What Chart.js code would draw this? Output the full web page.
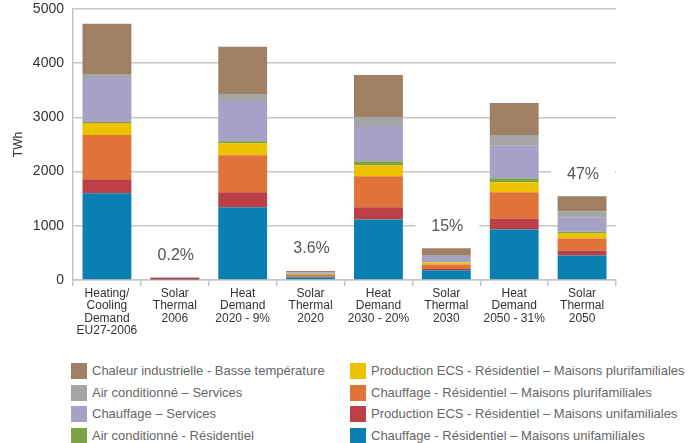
<!DOCTYPE html>
<html>
<head>
<meta charset="utf-8">
<script src="https://cdn.jsdelivr.net/npm/chart.js@4"></script>
<style>
  body { margin: 0; background: #fff; font-family: "Liberation Sans", Arial, sans-serif; }
  #wrap { position: relative; width: 696px; height: 443px; }
  #chartBox { position: absolute; left: 0; top: 0; width: 696px; height: 340px; }
  #legend { position: absolute; left: 0; top: 0; }
  .item { position: absolute; height: 16px; white-space: nowrap; font-size: 13px; color: #666; line-height: 16px; }
  .item span.sw { position: absolute; left: 0; top: 0; width: 16px; height: 16px; }
  .item span.tx { position: absolute; left: 21px; top: 0; }
</style>
</head>
<body>
<div id="wrap">
  <div id="chartBox"><canvas id="chartCanvas"></canvas></div>
  <div id="legend"></div>
</div>
<script>
const categories = [
    ["Heating/", "Cooling", "Demand", "EU27-2006"],
    ["Solar", "Thermal", "2006"],
    ["Heat", "Demand", "2020 - 9%"],
    ["Solar", "Thermal", "2020"],
    ["Heat", "Demand", "2030 - 20%"],
    ["Solar", "Thermal", "2030"],
    ["Heat", "Demand", "2050 - 31%"],
    ["Solar", "Thermal", "2050"]
];
const shareLabels = ["", "0.2%", "", "3.6%", "", "15%", "", "47%"];

// series, bottom of the stack first
const chauffageUni   = [1600, 10, 1340, 50, 1117, 178, 932, 451];
const ecsUni         = [258, 25, 277, 8, 223, 26, 204, 92];
const chauffagePluri = [815, 5, 685, 35, 574, 80, 481, 222];
const ecsPluri       = [222, 2, 223, 5, 203, 37, 185, 93];
const climResid      = [19, 1, 37, 12, 74, 6, 75, 37];
const chauffageServ  = [815, 2, 740, 15, 649, 99, 598, 259];
const climServ       = [74, 1, 130, 12, 166, 37, 198, 111];
const chaleurIndus   = [926, 5, 870, 30, 778, 122, 592, 278];

const yTicks = [0, 1000, 2000, 3000, 4000, 5000];

const series = [
    { label: "Chauffage - Résidentiel – Maisons unifamiliales", data: chauffageUni, color: "#0a7fb2" },
    { label: "Production ECS - Résidentiel – Maisons unifamiliales", data: ecsUni, color: "#bc3f46" },
    { label: "Chauffage - Résidentiel – Maisons plurifamiliales", data: chauffagePluri, color: "#e07438" },
    { label: "Production ECS - Résidentiel – Maisons plurifamiliales", data: ecsPluri, color: "#ecc200" },
    { label: "Air conditionné - Résidentiel", data: climResid, color: "#7ea346" },
    { label: "Chauffage – Services", data: chauffageServ, color: "#a6a1c6" },
    { label: "Air conditionné – Services", data: climServ, color: "#a3a5a7" },
    { label: "Chaleur industrielle - Basse température", data: chaleurIndus, color: "#a08064" }
];

// legend layout: left column top-down, then right column
const legendOrder = [7, 6, 5, 4, 3, 2, 1, 0];

const shareLabelPlugin = {
    id: "shareLabels",
    afterDatasetsDraw(chart) {
        const ctx = chart.ctx;
        const xs = chart.scales.x;
        const ys = chart.scales.y;
        ctx.save();
        ctx.font = "16px 'Liberation Sans', Arial, sans-serif";
        ctx.textAlign = "center";
        ctx.textBaseline = "middle";
        shareLabels.forEach((txt, i) => {
            if (!txt) return;
            let total = 0;
            series.forEach(s => total += s.data[i]);
            const x = xs.getPixelForValue(i) + 1;
            const y = ys.getPixelForValue(total) - 22;
            ctx.fillStyle = "#fff";
            ctx.fillRect(x - 32, y - 11, 64, 22);
            ctx.fillStyle = "#555";
            ctx.fillText(txt, x, y);
        });
        ctx.restore();
    }
};

let chart;
function showChart() {
    const ctx = document.getElementById("chartCanvas").getContext("2d");
    chart = new Chart(ctx, {
        type: "bar",
        data: {
            labels: categories,
            datasets: series.map(s => ({
                label: s.label,
                data: s.data,
                backgroundColor: s.color,
                borderWidth: 0,
                barPercentage: 0.72,
                categoryPercentage: 1
            }))
        },
        options: {
            responsive: true,
            maintainAspectRatio: false,
            animation: false,
            layout: { padding: { left: 0, right: 80, top: 9, bottom: 0 } },
            plugins: {
                legend: { display: false },
                tooltip: { enabled: false }
            },
            scales: {
                x: {
                    stacked: true,
                    afterFit: scale => { scale.height = 60; },
                    grid: {
                        offset: true,
                        drawOnChartArea: false,
                        drawTicks: true,
                        tickLength: 6,
                        color: "#c6c6c6",
                        lineWidth: 1.5
                    },
                    border: { color: "#c6c6c6", width: 1.5 },
                    ticks: {
                        color: "#333",
                        font: { family: "'Liberation Sans', Arial, sans-serif", size: 12, lineHeight: 1.04 },
                        maxRotation: 0,
                        autoSkip: false,
                        padding: 1
                    }
                },
                y: {
                    stacked: true,
                    min: 0,
                    max: 5000,
                    afterFit: scale => {
                        scale.width = 73;
                        scale.paddingTop = 0;
                        scale.paddingBottom = 0;
                    },
                    afterBuildTicks: scale => { scale.ticks = yTicks.map(v => ({ value: v })); },
                    grid: { color: "#c6c6c6", lineWidth: 1.5, drawTicks: false },
                    border: { color: "#c6c6c6", width: 1.5 },
                    ticks: {
                        color: "#333",
                        padding: 9,
                        font: { family: "'Liberation Sans', Arial, sans-serif", size: 14 },
                        callback: value => String(value)
                    },
                    title: {
                        display: true,
                        text: "TWh",
                        color: "#333",
                        font: { family: "'Liberation Sans', Arial, sans-serif", size: 12 },
                        padding: { top: 11, bottom: 0 }
                    }
                }
            }
        },
        plugins: [shareLabelPlugin]
    });
}

function buildLegend() {
    const box = document.getElementById("legend");
    legendOrder.forEach((idx, n) => {
        const col = Math.floor(n / 4);
        const row = n % 4;
        const item = document.createElement("div");
        item.className = "item";
        item.style.left = (col === 0 ? 71 : 350) + "px";
        item.style.top = (363 + row * 21.5) + "px";
        const sw = document.createElement("span");
        sw.className = "sw";
        sw.style.background = series[idx].color;
        const tx = document.createElement("span");
        tx.className = "tx";
        tx.textContent = series[idx].label;
        item.appendChild(sw);
        item.appendChild(tx);
        box.appendChild(item);
    });
}

showChart();
buildLegend();
</script>
</body>
</html>
